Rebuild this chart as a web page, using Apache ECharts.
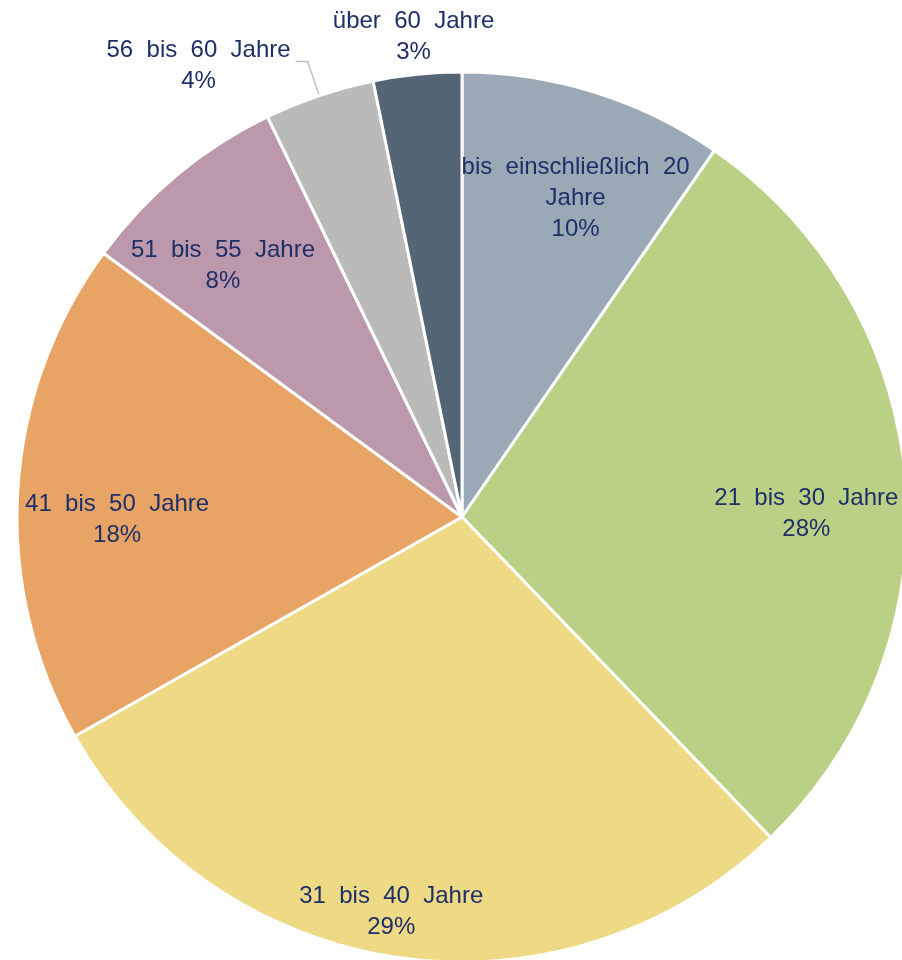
<!DOCTYPE html>
<html>
<head>
<meta charset="UTF-8">
<title>Altersstruktur</title>
<script src="https://cdn.jsdelivr.net/npm/echarts@6/dist/echarts.min.js"></script>
<style>
html, body { margin: 0; padding: 0; background: #fff; }
#main { width: 902px; height: 960px; }
</style>
</head>
<body>
<div id="main"></div>
<script>
// Anteile der Altersgruppen (in %)
var categories = ['bis einschließlich 20 Jahre', '21 bis 30 Jahre', '31 bis 40 Jahre', '41 bis 50 Jahre', '51 bis 55 Jahre', '56 bis 60 Jahre', 'über 60 Jahre'];
var shares = [9.6, 28.2, 29.0, 18.3, 7.7, 4.0, 3.2];
var colors = ['#9BA9B6', '#B9D085', '#EED985', '#E8A465', '#BB98AB', '#BABABA', '#546576'];
var leaderLabels = ['56 bis 60 Jahre'];  // Beschriftung mit Führungslinie
var topLabels = ['über 60 Jahre'];       // Beschriftung über dem Segment

// kleine Verschiebungen der Innenbeschriftungen (px)
var labelNudge = {
  'bis einschließlich 20 Jahre': [11, -3],
  '21 bis 30 Jahre': [0, 11],
  '31 bis 40 Jahre': [-21, 39],
  '41 bis 50 Jahre': [0, 9],
  '51 bis 55 Jahre': [-18, 0]
};

var textColor = '#1D2F68';

function labelText(name, pct) {
  var words = name.split(' '), lines = [], cur = '';
  words.forEach(function (w) {
    var next = cur ? cur + ' ' + w : w;
    if (next.length > 22 && cur) { lines.push(cur); cur = w; } else { cur = next; }
  });
  lines.push(cur);
  lines.push(pct + '%');
  return lines.map(function (l) { return '{t|' + l.replace(/ /g, '  ') + '}'; }).join('\n');
}

var textStyle = { color: textColor, fontFamily: 'Liberation Sans', fontSize: 24, lineHeight: 31 };
var labelBase = {
  color: textColor, fontFamily: 'Liberation Sans', fontSize: 24, lineHeight: 31,
  rich: { t: Object.assign({ align: 'center' }, textStyle) },
  formatter: function (p) { return labelText(p.name, p.percent); }
};

var mainData = categories.map(function (name, i) {
  var item = { name: name, value: shares[i], itemStyle: { color: colors[i] } };
  if (leaderLabels.indexOf(name) >= 0) {
    item.label = { show: true, position: 'outside' };
    item.labelLine = { show: true, length: 36, length2: 12, lineStyle: { color: '#B6C0CA', width: 1.5 } };
  }
  return item;
});

var innerData = categories.map(function (name, i) {
  var inner = leaderLabels.indexOf(name) < 0 && topLabels.indexOf(name) < 0;
  return { name: name, value: shares[i], label: { show: inner } };
});

var topData = categories.map(function (name, i) {
  return { name: name, value: shares[i], label: { show: topLabels.indexOf(name) >= 0 } };
});

var chart = echarts.init(document.getElementById('main'));
chart.setOption({
  animation: false,
  series: [
    {
      type: 'pie',
      center: [462, 517],
      radius: 445,
      startAngle: 90,
      clockwise: true,
      percentPrecision: 0,
      avoidLabelOverlap: false,
      silent: true,
      itemStyle: { borderColor: '#fff', borderWidth: 3 },
      label: Object.assign({ show: false }, labelBase),
      labelLine: { show: false },
      labelLayout: function (params) {
        return { dy: 4 };
      },
      emphasis: { disabled: true },
      data: mainData
    },
    {
      type: 'pie',
      center: [462, 531],
      radius: [240, 445],
      startAngle: 90,
      clockwise: true,
      percentPrecision: 0,
      avoidLabelOverlap: false,
      silent: true,
      itemStyle: { color: 'transparent', borderWidth: 0 },
      label: Object.assign({ position: 'inside' }, labelBase),
      labelLine: { show: false },
      labelLayout: function (params) {
        var n = labelNudge[categories[params.dataIndex]];
        return n ? { dx: n[0], dy: n[1] } : {};
      },
      emphasis: { disabled: true },
      data: innerData
    },
    {
      type: 'pie',
      center: [462, 517],
      radius: [450, 510],
      startAngle: 90,
      clockwise: true,
      percentPrecision: 0,
      avoidLabelOverlap: false,
      silent: true,
      itemStyle: { color: 'transparent', borderWidth: 0 },
      label: Object.assign({ position: 'inside' }, labelBase),
      labelLine: { show: false },
      emphasis: { disabled: true },
      data: topData
    }
  ]
});
</script>
</body>
</html>
